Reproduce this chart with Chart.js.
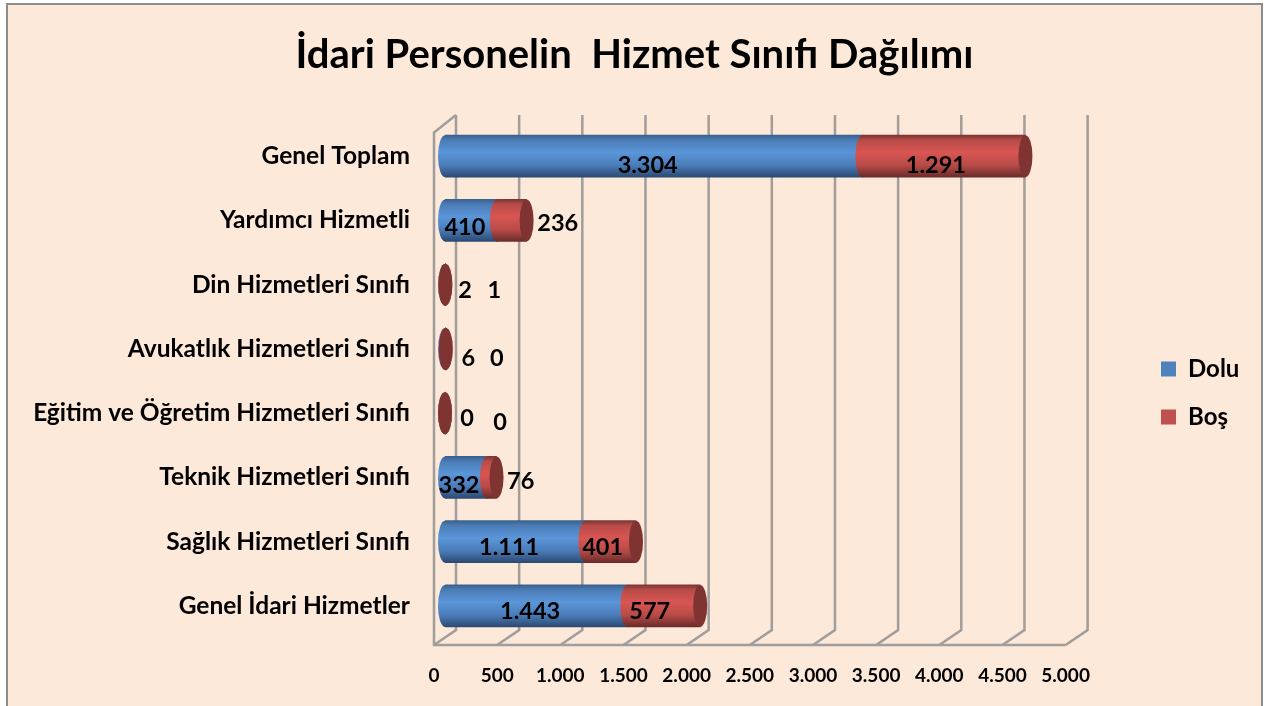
<!DOCTYPE html>
<html lang="tr">
<head>
<meta charset="utf-8">
<style>
html,body{margin:0;padding:0;background:#fff;}
#wrap{position:absolute;left:6px;top:3px;width:1257px;height:703px;box-sizing:border-box;background:#FDE9D9;border:2px solid #8c8c8c;border-bottom:none;}
canvas{position:absolute;left:0;top:0;}
</style>
<script src="https://cdn.jsdelivr.net/npm/chart.js@4/dist/chart.umd.min.js"></script>
</head>
<body>
<div id="wrap"></div>
<canvas id="c" width="1264" height="706" style="width:1264px;height:706px"></canvas>
<script>
const titleText = 'İdari Personelin  Hizmet Sınıfı Dağılımı';
const categories = ['Genel Toplam','Yardımcı Hizmetli','Din Hizmetleri Sınıfı','Avukatlık Hizmetleri Sınıfı','Eğitim ve Öğretim Hizmetleri Sınıfı','Teknik Hizmetleri Sınıfı','Sağlık Hizmetleri Sınıfı','Genel İdari Hizmetler'];
const dolu = [3304,410,2,6,0,332,1111,1443];
const bos  = [1291,236,1,0,0,76,401,577];
const doluText = ['3.304','410','2','6','0','332','1.111','1.443'];
const bosText  = ['1.291','236','1','0','0','76','401','577'];
const xTicks = ['0','500','1.000','1.500','2.000','2.500','3.000','3.500','4.000','4.500','5.000'];

// pixel nudges of the hand-moved labels, relative to the segment centre
const doluNudgeX = [-6,-6,20,23,22,-7,-6,-6];
const doluNudgeY = [9,7,6,10,5,8,6,6];
const bosNudgeX  = [-8,46,49,51,55,29,-8,-14];
const bosNudgeY  = [9,3,6,10,9,4,6,6];

const FONT = 'Lato';
const DEPTH = 11, RISE = 15.5, CAP_RX = 7;
const BAR_H = 42;

function cylinderFill(stops){
  return function(ctx){
    const ch = ctx.chart, ys = ch.scales.y;
    if(!ys || ctx.dataIndex === undefined) return stops[2];
    const cy = ys.getPixelForValue(ctx.dataIndex);
    if(!isFinite(cy)) return stops[2];
    const g = ch.ctx.createLinearGradient(0, cy-BAR_H/2, 0, cy+BAR_H/2);
    g.addColorStop(0, stops[0]);
    g.addColorStop(0.12, stops[1]);
    g.addColorStop(0.42, stops[2]);
    g.addColorStop(0.72, stops[3]);
    g.addColorStop(1, stops[4]);
    return g;
  };
}
const blueStops = ['#38608f','#4b7cb6','#5b96d9','#4a7cb8','#2b4a72'];
const redStops  = ['#7d3533','#b84c49','#d95552','#b74b48','#6a2b29'];

const wallPlugin = {
  id:'wall',
  beforeDatasetsDraw(chart){
    const c = chart.ctx, xs = chart.scales.x;
    const top = 115, back = 630, floor = 645;
    c.save();
    c.strokeStyle = '#a09d9a';
    c.lineWidth = 2.5;
    xs.ticks.forEach(t=>{
      const p = xs.getPixelForValue(t.value);
      c.beginPath();
      c.moveTo(p+DEPTH, top);
      c.lineTo(p+DEPTH, back);
      c.lineTo(p-DEPTH, floor);
      c.stroke();
    });
    const p0 = xs.getPixelForValue(0), pN = xs.getPixelForValue(5000);
    c.beginPath();
    c.moveTo(p0+DEPTH, top);
    c.lineTo(p0-DEPTH, top+RISE+2);
    c.lineTo(p0-DEPTH, floor);
    c.lineTo(pN-DEPTH, floor);
    c.stroke();
    c.restore();
  },
  afterDatasetsDraw(chart){
    const c = chart.ctx;
    const a = chart.getDatasetMeta(0).data, b = chart.getDatasetMeta(1).data;
    c.save();
    a.forEach((el,i)=>{
      const r = b[i], cy = el.y, ry = BAR_H/2;
      c.fillStyle = el.options.backgroundColor;
      c.beginPath(); c.ellipse(el.base, cy, CAP_RX, ry, 0, 0, Math.PI*2); c.fill();
      c.fillStyle = r.options.backgroundColor;
      c.beginPath(); c.ellipse(r.base, cy, CAP_RX, ry, 0, 0, Math.PI*2); c.fill();
      c.fillStyle = '#7f3432';
      c.beginPath(); c.ellipse(r.x, cy, CAP_RX, ry, 0, 0, Math.PI*2); c.fill();
    });
    c.restore();
  }
};

const labelPlugin = {
  id:'valueLabels',
  afterDraw(chart){
    const c = chart.ctx;
    c.save();
    c.font = 'bold 23.5px '+FONT;
    c.fillStyle = '#000';
    c.textAlign = 'center';
    c.textBaseline = 'middle';
    const draw = (idx,texts,nx,ny)=>{
      chart.getDatasetMeta(idx).data.forEach((el,i)=>{
        c.fillText(texts[i], (el.base+el.x)/2+nx[i], el.y+ny[i]);
      });
    };
    draw(0,doluText,doluNudgeX,doluNudgeY);
    draw(1,bosText,bosNudgeX,bosNudgeY);
    c.restore();
  }
};

const layoutTweaks = {
  id:'layoutTweaks',
  afterLayout(chart){
    const l = chart.legend, w = l.right - l.left;
    l.left = 1137; l.right = l.left + w;
    l.top += 40; l.bottom += 40;
    l.adjustHitBoxes();
    chart.titleBlock.left = 0;
    chart.titleBlock.right = 1269;
  }
};

new Chart(document.getElementById('c'),{
  type:'bar',
  data:{
    labels:categories,
    datasets:[
      {label:'Dolu',data:dolu,backgroundColor:cylinderFill(blueStops),borderWidth:0,stack:'s'},
      {label:'Boş',data:bos,backgroundColor:cylinderFill(redStops),borderWidth:0,stack:'s'}
    ]
  },
  plugins:[wallPlugin,labelPlugin,layoutTweaks],
  options:{
    indexAxis:'y',
    responsive:false,
    animation:false,
    events:[],
    layout:{padding:{top:0,right:75,bottom:0,left:0}},
    scales:{
      x:{
        stacked:true,min:0,max:5000,
        border:{display:false},
        grid:{display:false,drawTicks:false},
        afterBuildTicks(s){ s.ticks = xTicks.map((_,i)=>({value:i*500})); },
        ticks:{
          stepSize:500,autoSkip:false,maxRotation:0,padding:26,labelOffset:-DEPTH,
          color:'#000',font:{family:FONT,weight:'bold',size:19},
          callback(v,i){ return xTicks[i]; }
        },
        afterFit(s){ s.height = 68; }
      },
      y:{
        stacked:true,
        border:{display:false},
        grid:{display:false,drawTicks:false},
        ticks:{autoSkip:false,padding:35,color:'#000',font:{family:FONT,weight:'bold',size:24.5}},
        afterFit(s){ s.width = 445; }
      }
    },
    datasets:{bar:{barThickness:BAR_H}},
    plugins:{
      title:{
        display:true,text:titleText,color:'#000',
        font:{family:FONT,weight:'bold',size:40},
        padding:{top:31,bottom:45}
      },
      legend:{
        position:'right',align:'center',
        labels:{
          boxWidth:15,boxHeight:15,padding:24,color:'#000',
          font:{family:FONT,weight:'bold',size:24},
          generateLabels(chart){
            const flat = ['#4F81BD','#C0504D'];
            return Chart.defaults.plugins.legend.labels.generateLabels(chart).map((it,i)=>
              Object.assign(it,{fillStyle:flat[i],strokeStyle:flat[i],lineWidth:0}));
          }
        }
      },
      tooltip:{enabled:false}
    }
  }
});
</script>
</body>
</html>
